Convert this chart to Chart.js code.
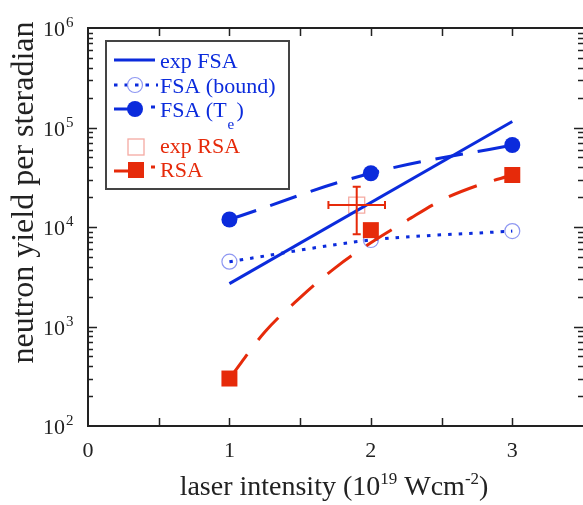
<!DOCTYPE html>
<html><head><meta charset="utf-8">
<script src="https://cdn.jsdelivr.net/npm/chart.js@4/dist/chart.umd.min.js"></script>
<style>html,body{margin:0;padding:0;background:#fff;overflow:hidden;}</style>
</head><body>
<canvas id="c" width="583" height="505"></canvas>
<script>
// ---- data ----
const expFsaX = [1, 3];
const expFsaY = [2700, 115000];
const fsaBoundX = [1, 2, 3];
const fsaBoundY = [4480, 7400, 9100];
const fsaTeX = [1, 2, 3];
const fsaTeY = [11900, 34700, 66700];
const expRsaX = [1.90];
const expRsaY = [16600];
const expRsaErrX = [[1.70, 2.10]];
const expRsaErrY = [[8450, 25400]];
const rsaX = [1, 2, 3];
const rsaY = [300, 9300, 33300];
const rsaFitX = [1, 1.25, 1.5, 1.75, 2, 2.25, 2.5, 2.75, 3];
const rsaFitY = [300, 880, 1950, 3910, 6950, 11500, 18600, 26000, 33300];
const xTicks = [0, 0.5, 1, 1.5, 2, 2.5, 3, 3.5];
const xTickLabels = ['0', '', '1', '', '2', '', '3', ''];
const yDecades = [100, 1000, 10000, 100000, 1000000];
const yExponents = ['2', '3', '4', '5', '6'];
const legendLabels = ['exp FSA', 'FSA (bound)', 'FSA (T', 'exp RSA', 'RSA'];

const BLUE = '#0b2bdc', RED = '#e62a0a', PINK = '#f5aaa2', LBLUE = '#8f98f2', AX = '#222';
const FONT = '"Liberation Serif", "Times New Roman", serif';
const zip = (xs, ys) => xs.map((v, i) => ({x: v, y: ys[i]}));

const deco = {
  id: 'deco',
  afterDatasetsDraw(chart) {
    const {ctx, chartArea: a, scales: {x, y}} = chart;
    ctx.save();
    // error bars
    ctx.strokeStyle = RED; ctx.lineWidth = 2;
    expRsaX.forEach((xv, i) => {
      const px = x.getPixelForValue(xv), py = y.getPixelForValue(expRsaY[i]);
      const x0 = x.getPixelForValue(expRsaErrX[i][0]), x1 = x.getPixelForValue(expRsaErrX[i][1]);
      const y0 = y.getPixelForValue(expRsaErrY[i][0]), y1 = y.getPixelForValue(expRsaErrY[i][1]);
      ctx.beginPath();
      ctx.moveTo(x0, py); ctx.lineTo(x1, py);
      ctx.moveTo(px, y0); ctx.lineTo(px, y1);
      ctx.moveTo(x0, py - 4); ctx.lineTo(x0, py + 4);
      ctx.moveTo(x1, py - 4); ctx.lineTo(x1, py + 4);
      ctx.moveTo(px - 4, y0); ctx.lineTo(px + 4, y0);
      ctx.moveTo(px - 4, y1); ctx.lineTo(px + 4, y1);
      ctx.stroke();
    });
    // frame
    ctx.strokeStyle = AX; ctx.lineWidth = 2;
    ctx.beginPath();
    ctx.moveTo(a.right + 2, a.top); ctx.lineTo(a.left, a.top); ctx.lineTo(a.left, a.bottom); ctx.lineTo(a.right + 2, a.bottom);
    ctx.stroke();
    // x ticks
    ctx.lineWidth = 1.5;
    ctx.beginPath();
    xTicks.forEach(v => {
      if (v <= x.min || v >= x.max) return;
      const px = Math.round(x.getPixelForValue(v)) + 0.5;
      ctx.moveTo(px, a.bottom); ctx.lineTo(px, a.bottom - 8);
      ctx.moveTo(px, a.top); ctx.lineTo(px, a.top + 8);
    });
    // y ticks
    yDecades.forEach(d => {
      for (let m = 1; m <= 9; m++) {
        const v = d * m;
        if (v <= y.min || v >= y.max) continue;
        const py = Math.round(y.getPixelForValue(v)) + 0.5;
        const len = m === 1 ? 9 : 5;
        ctx.moveTo(a.left, py); ctx.lineTo(a.left + len, py);
        ctx.moveTo(a.right, py); ctx.lineTo(a.right - len, py);
      }
    });
    ctx.stroke();
    // x tick labels
    ctx.fillStyle = AX;
    ctx.font = '22px ' + FONT;
    ctx.textAlign = 'center'; ctx.textBaseline = 'alphabetic';
    xTicks.forEach((v, i) => {
      if (xTickLabels[i]) ctx.fillText(xTickLabels[i], x.getPixelForValue(v), 457);
    });
    // y tick labels 10^n
    yDecades.forEach((d, i) => {
      const py = y.getPixelForValue(d);
      ctx.font = '22px ' + FONT; ctx.textAlign = 'right';
      ctx.fillText('10', 65, py + 8);
      ctx.font = '15px ' + FONT; ctx.textAlign = 'left';
      ctx.fillText(yExponents[i], 66, py - 1);
    });
    // y title
    ctx.save();
    ctx.translate(33, 192.5); ctx.rotate(-Math.PI / 2);
    ctx.font = '32px ' + FONT; ctx.textAlign = 'center';
    ctx.fillText('neutron yield per steradian', 0, 0);
    ctx.restore();
    // x title with superscripts
    const parts = [['laser intensity (10', 28, 0], ['19', 17, -11], [' Wcm', 28, 0], ['-2', 17, -11], [')', 28, 0]];
    let total = 0;
    parts.forEach(p => { ctx.font = p[1] + 'px ' + FONT; total += ctx.measureText(p[0]).width; });
    let cx = 334 - total / 2;
    ctx.textAlign = 'left';
    parts.forEach(p => { ctx.font = p[1] + 'px ' + FONT; ctx.fillText(p[0], cx, 495 + p[2]); cx += ctx.measureText(p[0]).width; });

    // legend
    ctx.fillStyle = '#fff';
    ctx.fillRect(106, 41, 183, 148);
    ctx.strokeStyle = '#444'; ctx.lineWidth = 2;
    ctx.strokeRect(106, 41, 183, 148);
    ctx.font = '22px ' + FONT; ctx.textAlign = 'left';
    const tx = 160;
    // row 1
    ctx.strokeStyle = BLUE; ctx.lineWidth = 3;
    ctx.beginPath(); ctx.moveTo(114, 60); ctx.lineTo(155, 60); ctx.stroke();
    ctx.fillStyle = BLUE; ctx.fillText(legendLabels[0], tx, 68);
    // row 2
    ctx.setLineDash([3.5, 7]);
    ctx.beginPath(); ctx.moveTo(114, 85); ctx.lineTo(158, 85); ctx.stroke();
    ctx.setLineDash([]);
    ctx.strokeStyle = LBLUE; ctx.lineWidth = 1.2;
    ctx.beginPath(); ctx.arc(135, 85, 7.5, 0, Math.PI * 2); ctx.stroke();
    ctx.fillText(legendLabels[1], tx, 92.5);
    // row 3
    ctx.strokeStyle = BLUE; ctx.lineWidth = 3;
    ctx.beginPath(); ctx.moveTo(114, 109); ctx.lineTo(128, 109); ctx.moveTo(151, 107); ctx.lineTo(155, 107); ctx.stroke();
    ctx.beginPath(); ctx.arc(135, 109, 8, 0, Math.PI * 2); ctx.fill();
    ctx.fillText(legendLabels[2], tx, 116.5);
    const w3 = ctx.measureText(legendLabels[2]).width;
    ctx.font = '15px ' + FONT; ctx.fillText('e', tx + w3 + 1, 129);
    ctx.font = '22px ' + FONT; ctx.fillText(')', tx + w3 + 10, 116.5);
    // row 4
    ctx.strokeStyle = PINK; ctx.lineWidth = 1.3;
    ctx.strokeRect(128, 139, 16, 16);
    ctx.fillStyle = RED; ctx.fillText(legendLabels[3], tx, 153);
    // row 5
    ctx.strokeStyle = RED; ctx.lineWidth = 3;
    ctx.beginPath(); ctx.moveTo(114, 171); ctx.lineTo(128, 171); ctx.moveTo(151, 167); ctx.lineTo(155, 167); ctx.stroke();
    ctx.fillRect(128, 162, 16, 16);
    ctx.fillText(legendLabels[4], tx, 177);
    ctx.restore();
  }
};

new Chart(document.getElementById('c'), {
  type: 'line',
  data: {
    datasets: [
      {label: 'RSA', data: zip(rsaX, rsaY), showLine: false, pointStyle: 'rect', pointRadius: 11.3,
       pointBackgroundColor: RED, pointBorderColor: RED, pointBorderWidth: 0, order: 0},
      {label: 'FSA (Te)', data: zip(fsaTeX, fsaTeY), borderColor: BLUE, borderWidth: 3, borderDash: [28, 15],
       tension: 0.4, pointRadius: 8, pointBackgroundColor: BLUE, pointBorderColor: BLUE, pointBorderWidth: 0, order: 1},
      {label: 'RSA fit', data: zip(rsaFitX, rsaFitY), borderColor: RED, borderWidth: 3, borderDash: [30, 18],
       tension: 0.4, cubicInterpolationMode: 'monotone', pointRadius: 0, order: 2},
      {label: 'exp FSA', data: zip(expFsaX, expFsaY), borderColor: BLUE, borderWidth: 3, pointRadius: 0, order: 3},
      {label: 'FSA (bound)', data: zip(fsaBoundX, fsaBoundY), borderColor: BLUE, borderWidth: 3, borderDash: [3.5, 7],
       tension: 0.3, pointRadius: 7.5, pointBackgroundColor: 'rgba(0,0,0,0)', pointBorderColor: LBLUE, pointBorderWidth: 1.2, order: 4},
      {label: 'exp RSA', data: zip(expRsaX, expRsaY), showLine: false, pointStyle: 'rect', pointRadius: 11.3,
       pointBackgroundColor: 'rgba(0,0,0,0)', pointBorderColor: PINK, pointBorderWidth: 1.3, order: 5}
    ]
  },
  options: {
    responsive: false, devicePixelRatio: 1, animation: false,
    layout: {autoPadding: false, padding: {left: 88, right: 0, top: 28, bottom: 79}},
    plugins: {legend: {display: false}, tooltip: {enabled: false}},
    scales: {
      x: {type: 'linear', min: 0, max: 3.5, display: false},
      y: {type: 'logarithmic', min: 100, max: 1000000, display: false}
    }
  },
  plugins: [deco]
});
</script>
</body></html>
